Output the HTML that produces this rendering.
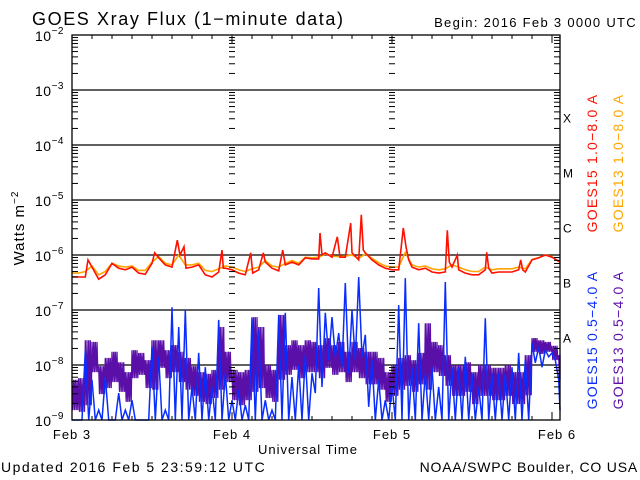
<!DOCTYPE html>
<html><head><meta charset="utf-8">
<style>
html,body{margin:0;padding:0;background:#fff;}
svg{display:block;}
text{font-family:"Liberation Sans","DejaVu Sans",sans-serif;}
</style></head>
<body>
<svg id="chart" width="640" height="480" viewBox="0 0 640 480" xmlns="http://www.w3.org/2000/svg">
<rect x="0" y="0" width="640" height="480" fill="#fff"/>
<text x="32" y="25" font-size="18" letter-spacing="1.6" fill="#000">GOES Xray Flux (1−minute data)</text>
<text x="637" y="27" font-size="13" letter-spacing="1.3" fill="#000" text-anchor="end">Begin:  2016 Feb 3 0000 UTC</text>
<text x="24" y="228" font-size="15" letter-spacing="1" fill="#000" text-anchor="middle" transform="rotate(-90 24 228)">Watts m<tspan dy="-6" font-size="10">−2</tspan></text>
<text x="308" y="454" font-size="13" letter-spacing="1" fill="#000" text-anchor="middle">Universal Time</text>
<text x="1" y="472" font-size="14" letter-spacing="1.5" fill="#000">Updated 2016 Feb  5 23:59:12 UTC</text>
<text x="638" y="472" font-size="14" letter-spacing="0.8" fill="#000" text-anchor="end">NOAA/SWPC Boulder, CO USA</text>
<g id="grid"></g>
<g id="series"></g>
<g id="axes"></g>
<g id="labels"></g>
</svg>
<script>
// ---- data (log10 of flux in W/m^2, hours since 2016 Feb 3 00:00 UTC) ----
const goes15LongHours = [0,1,2,2.4,3,4,5,6,7,8,9,10,11,12,12.4,13,14,15,15.8,16.2,16.8,17.1,18,19,20,21,22,22.5,22.7,23,24,25,26,26.8,27.1,28,28.7,29,30,31,31.6,32,33,34,35,36,37,37.2,37.5,38,39,39.8,40.2,41,41.8,42,43,43.4,43.7,44,45,46,47,48,49,49.7,50.1,50.5,51,52,53,54,55,56,56.3,56.6,57,57.8,58,59,60,61,62,62.2,62.5,63,64,65,66,67,67.3,67.6,68,69,70,71,72,73.2];
const goes15LongLog = [-6.40,-6.40,-6.40,-6.09,-6.22,-6.44,-6.36,-6.15,-6.24,-6.27,-6.22,-6.33,-6.35,-6.15,-5.96,-6.05,-6.18,-6.22,-5.73,-6.00,-5.85,-6.24,-6.22,-6.18,-6.36,-6.40,-6.31,-5.91,-6.24,-6.24,-6.27,-6.33,-6.36,-5.96,-6.33,-6.27,-5.96,-6.13,-6.24,-6.29,-5.91,-6.18,-6.13,-6.18,-6.05,-6.07,-6.07,-5.60,-6.00,-5.96,-6.04,-5.67,-6.04,-6.04,-5.42,-5.96,-6.09,-5.27,-5.91,-5.96,-6.09,-6.18,-6.24,-6.27,-6.27,-5.51,-5.85,-6.09,-6.22,-6.27,-6.24,-6.31,-6.33,-6.31,-5.55,-6.13,-6.22,-6.00,-6.27,-6.33,-6.36,-6.36,-6.27,-5.95,-6.24,-6.33,-6.31,-6.31,-6.31,-6.27,-6.09,-6.27,-6.31,-6.09,-6.05,-6.00,-6.04,-6.13];
const goes13LongLog = [-6.33,-6.33,-6.30,-6.20,-6.36,-6.30,-6.15,-6.20,-6.22,-6.20,-6.28,-6.28,-6.13,-6.03,-6.15,-6.18,-6.00,-6.18,-6.18,-6.15,-6.28,-6.30,-6.25,-6.20,-6.22,-6.27,-6.30,-6.25,-6.22,-6.10,-6.20,-6.22,-6.15,-6.10,-6.15,-6.04,-6.05,-6.04,-5.98,-6.02,-6.03,-6.02,-6.00,-6.06,-5.98,-6.06,-6.14,-6.20,-6.22,-6.22,-5.95,-6.18,-6.22,-6.20,-6.25,-6.27,-6.25,-6.18,-6.22,-6.27,-6.30,-6.30,-6.22,-6.27,-6.25,-6.25,-6.25,-6.22,-6.25,-6.08,-6.05,-6.00,-6.03,-6.12];
const goes13ShortHigh = [-8.27,-8.24,-7.55,-7.58,-8.02,-7.87,-7.76,-7.95,-8.13,-7.73,-7.78,-7.91,-7.55,-7.55,-7.73,-7.64,-7.76,-7.87,-8.02,-8.13,-8.16,-8.09,-7.31,-7.76,-8.09,-8.13,-8.09,-7.13,-7.31,-8.00,-8.09,-7.09,-7.64,-7.55,-7.64,-7.55,-7.58,-7.64,-7.51,-7.64,-7.58,-7.76,-7.58,-7.69,-7.76,-7.76,-7.87,-8.13,-8.00,-7.87,-7.82,-7.91,-7.78,-7.24,-7.58,-7.64,-7.82,-8.00,-8.00,-7.95,-8.13,-8.00,-8.00,-8.05,-8.05,-8.00,-8.13,-8.13,-7.82,-7.51,-7.55,-7.58,-7.65,-7.82];
const goes13ShortLow = [-8.82,-8.85,-8.73,-8.13,-8.53,-8.42,-8.31,-8.49,-8.67,-8.24,-8.18,-8.42,-8.45,-8.05,-8.24,-8.13,-8.31,-8.45,-8.56,-8.67,-8.71,-8.60,-8.45,-8.31,-8.64,-8.73,-8.64,-8.49,-8.42,-8.60,-8.67,-8.27,-8.18,-8.09,-8.24,-8.13,-8.13,-8.24,-8.05,-8.18,-8.13,-8.31,-8.13,-8.24,-8.35,-8.35,-8.45,-8.67,-8.56,-8.45,-8.38,-8.49,-8.35,-8.45,-8.13,-8.20,-8.38,-8.56,-8.56,-8.49,-8.71,-8.56,-8.56,-8.64,-8.64,-8.56,-8.71,-8.71,-8.55,-7.76,-7.80,-7.76,-7.91,-8.27];
const goes15ShortHigh = [-9.3,-9.3,-7.73,-8.27,-8.82,-8.22,-9.3,-8.51,-8.82,-8.64,-9.3,-9.3,-7.67,-7.85,-8.82,-6.95,-7.31,-7.00,-8.40,-7.78,-8.04,-8.40,-7.18,-8.15,-8.64,-8.45,-8.73,-7.15,-7.36,-8.64,-8.82,-7.09,-7.05,-8.22,-8.00,-7.82,-8.15,-6.60,-7.05,-7.13,-7.42,-6.51,-7.00,-6.40,-7.45,-7.91,-8.27,-8.64,-8.36,-6.91,-6.42,-8.04,-7.24,-8.15,-8.04,-8.40,-6.49,-8.04,-8.04,-7.85,-8.15,-8.40,-7.15,-8.15,-8.15,-8.15,-8.04,-7.78,-7.91,-7.60,-7.67,-7.73,-7.78,-8.27];
const goes15ShortLow = [-9.3,-9.3,-9.3,-9.3,-9.3,-9.3,-9.3,-9.3,-9.3,-9.3,-9.3,-9.3,-9.3,-9.3,-9.3,-9.3,-9.3,-9.3,-9.3,-9.3,-9.3,-9.3,-9.3,-9.3,-9.3,-9.3,-9.3,-9.3,-9.3,-9.3,-9.3,-9.3,-9.3,-9.3,-9.3,-9.3,-8.51,-8.40,-7.91,-7.85,-8.04,-8.15,-7.91,-7.85,-8.76,-9.3,-9.3,-9.3,-9.3,-9.3,-9.3,-9.3,-9.3,-9.3,-9.3,-9.3,-9.3,-9.3,-9.3,-9.3,-9.3,-9.3,-9.3,-9.3,-9.3,-9.3,-9.3,-9.3,-9.3,-7.96,-8.04,-7.85,-7.91,-8.82];
const decadeLabels = [-2,-3,-4,-5,-6,-7,-8,-9];
const dayLabels = ["Feb 3","Feb 4","Feb 5","Feb 6"];
const classLetters = ["X","M","C","B","A"];

// ---- axes functions ----
const X0 = 72, X1 = 560, PX_PER_HOUR = 160/24;
const Y_TOP = 35, PX_PER_DECADE = 55;
function xs(h){ return X0 + Math.min(h, 73.2)*PX_PER_HOUR; }
function ys(lg){ const y = Y_TOP + (-2 - lg)*PX_PER_DECADE; return Math.min(420, Math.max(Y_TOP, y)); }
const NS = "http://www.w3.org/2000/svg";
function mk(tag, parent){ const e = document.createElementNS(NS, tag); parent.appendChild(e); return e; }
const grid = document.getElementById('grid'), series = document.getElementById('series'),
      axes = document.getElementById('axes'), labels = document.getElementById('labels');

decadeLabels.forEach(function(d){
  if (d === -2 || d === -9) return;
  const l = mk('line', grid);
  
  
  l.setAttribute('x1', X0); l.setAttribute('x2', X1);
  l.setAttribute('y1', ys(d)); l.setAttribute('y2', ys(d));
  l.setAttribute('stroke', '#000'); l.setAttribute('stroke-width', '1.3');
});

function polyline(pts, color, name, w){
  const p = mk('polyline', series);
  
  
  p.setAttribute('points', pts.map(function(q){return q[0].toFixed(1)+','+q[1].toFixed(1);}).join(' '));
  p.setAttribute('fill', 'none'); p.setAttribute('stroke', color);
  p.setAttribute('stroke-width', w); p.setAttribute('stroke-linejoin', 'miter');
}
// noisy band: oscillate between each hour's high and low value `n` times
function zigzag(hi, lo, n){
  const pts = [];
  for (let h = 0; h < hi.length; h++){
    for (let k = 0; k < n; k++){
      pts.push([xs(h + k/n), ys(hi[h])]);
      pts.push([xs(h + (k+0.5)/n), ys(lo[h])]);
    }
  }
  return pts;
}
polyline(zigzag(goes13ShortHigh, goes13ShortLow, 4), '#5a0fa8', 'goes13-short-series', 1.3);
polyline(zigzag(goes15ShortHigh, goes15ShortLow, 1), '#0a2dff', 'goes15-short-series', 1.5);
polyline(goes13LongLog.map(function(v,i){return [xs(i), ys(v)];}), '#ffa500', 'goes13-long-series', 1.6);
polyline(goes15LongHours.map(function(h,i){return [xs(h), ys(goes15LongLog[i])];}), '#ff1000', 'goes15-long-series', 1.6);

const fr = mk('rect', axes);


fr.setAttribute('x', X0); fr.setAttribute('y', Y_TOP); fr.setAttribute('width', X1-X0); fr.setAttribute('height', 420-Y_TOP);
fr.setAttribute('fill', 'none'); fr.setAttribute('stroke', '#000'); fr.setAttribute('stroke-width', '1.3');

function tick(x1,y1,x2,y2,name){
  const t = mk('line', axes);
  
  
  t.setAttribute('x1',x1); t.setAttribute('y1',y1); t.setAttribute('x2',x2); t.setAttribute('y2',y2);
  t.setAttribute('stroke','#000'); t.setAttribute('stroke-width','1');
}
for (let d = -9; d < -2; d++){
  for (let m = 2; m <= 9; m++){
    const y = ys(d + Math.log10(m));
    tick(X0, y, X0+6, y, 'left-minor-tick');
    tick(X1-6, y, X1, y, 'right-minor-tick');
    [1,2].forEach(function(k){ const x = xs(24*k); tick(x-3, y, x+3, y, 'day-boundary-tick'); });
  }
}
for (let h = 3; h < 73; h += 3){
  const x = xs(h), len = (h % 24 === 0) ? 8 : 4;
  tick(x, Y_TOP, x, Y_TOP+len, 'top-time-tick');
  tick(x, 420, x, 420-len, 'bottom-time-tick');
}

decadeLabels.forEach(function(d){
  const t = mk('text', labels);
  
  
  t.setAttribute('x', 64); t.setAttribute('y', ys(d)+6);
  t.setAttribute('font-size', '14'); t.setAttribute('text-anchor', 'end');
  t.setAttribute('letter-spacing', '0.5');
  t.innerHTML = '10<tspan dy="-7" font-size="10">' + String(d).replace('-', '−') + '</tspan>';
});
dayLabels.forEach(function(s, i){
  const t = mk('text', labels);
  
  
  t.setAttribute('x', i === 3 ? 557 : xs(24*i)); t.setAttribute('y', 439);
  t.setAttribute('font-size', '13'); t.setAttribute('text-anchor', 'middle');
  t.setAttribute('letter-spacing', '1');
  t.textContent = s;
});
classLetters.forEach(function(c, i){
  const t = mk('text', labels);
  
  
  t.setAttribute('x', 563); t.setAttribute('y', ys(-3.5 - i) + 5);
  t.setAttribute('font-size', '12'); t.setAttribute('font-family', '"Liberation Serif", serif');
  t.textContent = c;
});
const legendNames = ["GOES15 1.0−8.0 A","GOES13 1.0−8.0 A","GOES15 0.5−4.0 A","GOES13 0.5−4.0 A"];
const legendColors = ['#ff1000','#ffa500','#0a2dff','#5a0fa8'];
const legendX = [597, 623, 597, 623], legendY = [163, 163, 340, 340];
legendNames.forEach(function(s, i){
  const t = mk('text', labels);
  
  
  t.setAttribute('x', legendX[i]); t.setAttribute('y', legendY[i]);
  t.setAttribute('font-size', '14'); t.setAttribute('text-anchor', 'middle');
  t.setAttribute('letter-spacing', '1.2');
  t.setAttribute('fill', legendColors[i]);
  t.setAttribute('transform', 'rotate(-90 ' + legendX[i] + ' ' + legendY[i] + ')');
  t.textContent = s;
});
</script>
</body></html>
